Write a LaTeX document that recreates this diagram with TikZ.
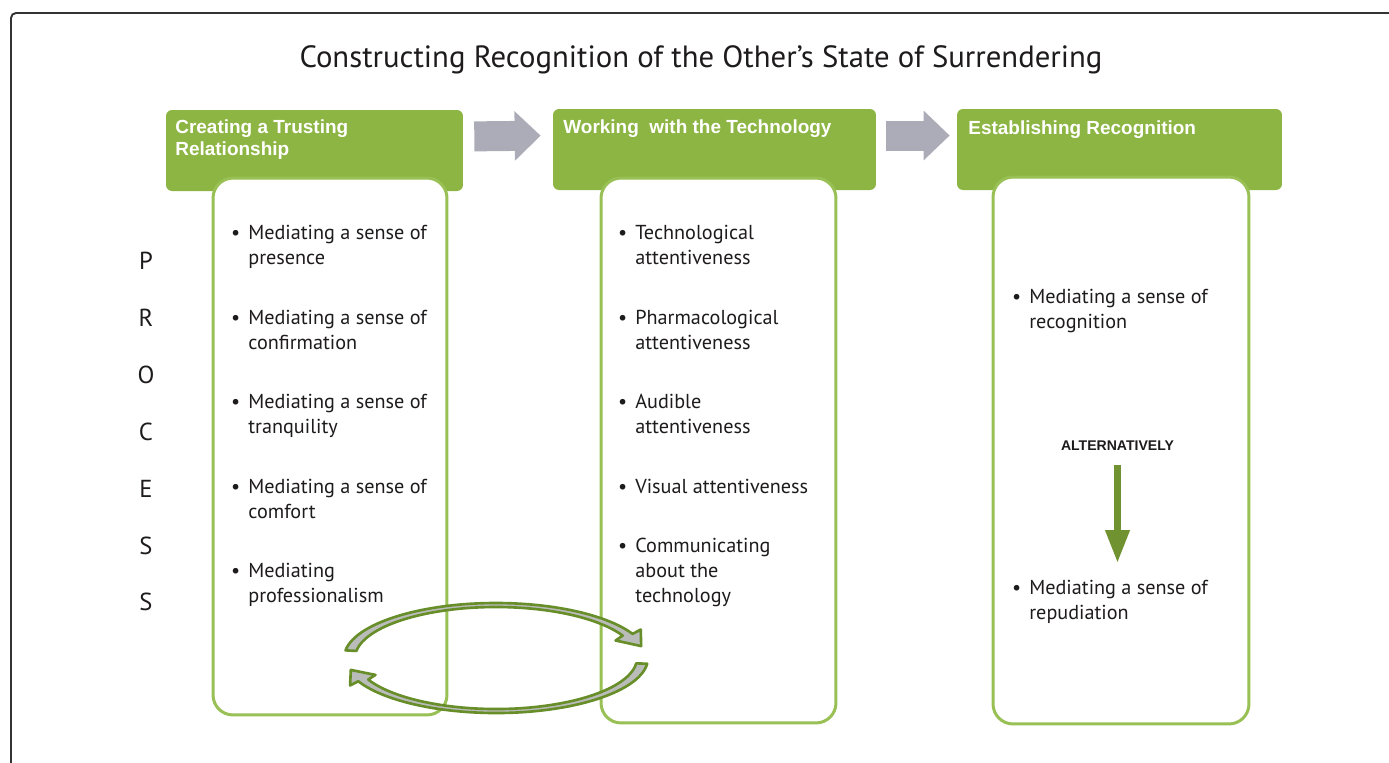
\documentclass[tikz,border=0pt]{standalone}
\usepackage{fontspec}
\setmainfont{PT Sans}
\newfontfamily\hdrfont{Liberation Sans}
\usepackage{tikz}
\usetikzlibrary{calc}
\usetikzlibrary{arrows.meta,positioning}
\definecolor{hdrgreen}{RGB}{141,181,67}
\definecolor{boxgreen}{RGB}{152,192,84}
\definecolor{arrgrey}{RGB}{172,172,184}
\definecolor{cycgrey}{RGB}{186,188,186}
\definecolor{cycgreen}{RGB}{104,142,42}
\definecolor{dkgreen}{RGB}{112,146,48}
\definecolor{txt}{RGB}{30,27,28}

\begin{document}
\begin{tikzpicture}[x=0.02cm, y=0.02cm,
    hdr/.style={fill=hdrgreen, rounded corners=1.2mm, inner sep=0pt, minimum height=16.2mm},
    hdrtext/.style={anchor=base west, inner sep=0pt, align=left, text=white,
        font=\hdrfont\bfseries\fontsize{10.8}{12}\selectfont},
    listbox/.style={draw=boxgreen, line width=1.7pt, fill=white, rounded corners=4mm, inner sep=0pt},
    item/.style={anchor=base west, inner sep=0pt, align=left, text=txt,
        font=\fontsize{11.5}{14.2}\selectfont},
    greyarr/.style={arrgrey, line width=6mm, -{Triangle[width=9.6mm,length=5.2mm]}},
    cycarr/.style={fill=cycgrey, draw=cycgreen, line width=1.5pt, line join=round}]
        \useasboundingbox (0,0) rectangle (1389,-762);
        \draw[line width=1.1pt, color=black!80, rounded corners=1mm] (11,-13) rectangle (1420,-800);

        % title
        \node[anchor=base, inner sep=0pt, text=txt, font=\fontsize{17.5}{19}\selectfont] (title) at (701,-67)
            {Constructing Recognition of the Other’s State of Surrendering};

        % headers
        \node[hdr, minimum width=59.4mm] (h1) at (314.5,-150.5) {};
        \node[hdr, minimum width=64.6mm] (h2) at (714.5,-149.5) {};
        \node[hdr, minimum width=65mm] (h3) at (1119.5,-149.5) {};
        \node[hdrtext] (h1t) at (175,-155) {Creating a Trusting\\Relationship};
        \node[hdrtext] (h2t) at (563,-133) {Working\ \ with the Technology};
        \node[hdrtext] (h3t) at (968,-134) {Establishing Recognition};

        \draw[greyarr, shorten <=2.2mm, shorten >=2.4mm] ([yshift=2.8mm]h1.east) -- ([yshift=2.8mm]h2.west);
        \draw[greyarr, shorten <=2mm, shorten >=1.4mm] ([yshift=2.8mm]h2.east) -- ([yshift=2.8mm]h3.west);

        % white boxes
        \node[listbox, minimum width=46.8mm, minimum height=107.4mm] (b1) at (330,-446.5) {};
        \node[listbox, minimum width=47mm, minimum height=109mm] (b2) at (718.5,-450.5) {};
        \node[listbox, minimum width=51.2mm, minimum height=109.4mm] (b3) at (1121,-450.5) {};

        % process
        \foreach \l/\y [count=\i] in {P/261, R/318, O/375, C/432, E/489, S/546, S/602}
            \node[inner sep=0pt, text=txt, font=\fontsize{14}{15}\selectfont] (p\i) at (146,-\y) {\l};

        % first column (base = last line)
        \node[item] (a1) at (248,-264) {\llap{\textbullet\hspace{1.6mm}}Mediating a sense of\\presence};
        \node[item] (a2) at (248,-349) {\llap{\textbullet\hspace{1.6mm}}Mediating a sense of\\confirmation};
        \node[item] (a3) at (248,-433) {\llap{\textbullet\hspace{1.6mm}}Mediating a sense of\\tranquility};
        \node[item] (a4) at (248,-518) {\llap{\textbullet\hspace{1.6mm}}Mediating a sense of\\comfort};
        \node[item] (a5) at (248,-602) {\llap{\textbullet\hspace{1.6mm}}Mediating\\professionalism};

        % second column
        \node[item] (w1) at (635,-264) {\llap{\textbullet\hspace{1.6mm}}Technological\\attentiveness};
        \node[item] (w2) at (635,-349) {\llap{\textbullet\hspace{1.6mm}}Pharmacological\\attentiveness};
        \node[item] (w3) at (635,-433) {\llap{\textbullet\hspace{1.6mm}}Audible\\attentiveness};
        \node[item] (w4) at (635,-493) {\llap{\textbullet\hspace{1.6mm}}Visual attentiveness};
        \node[item] (w5) at (635,-602) {\llap{\textbullet\hspace{1.6mm}}Communicating\\about the\\technology};

        % third column
        \node[item] (r1) at (1029,-328) {\llap{\textbullet\hspace{1.6mm}}Mediating a sense of\\recognition};
        \node[anchor=base, inner sep=0pt, text=txt, font=\hdrfont\bfseries\fontsize{8}{9}\selectfont] (alt) at (1117.5,-450)
            {ALTERNATIVELY};
        \node[item] (r2) at (1029,-619) {\llap{\textbullet\hspace{1.6mm}}Mediating a sense of\\repudiation};
        \coordinate (dnend) at (1117.5,-563);
        \draw[dkgreen, line width=1.4mm, -{Triangle[width=4.6mm,length=6.6mm]}, shorten <=3mm] (alt.south) -- (dnend);

        % cycle
        \coordinate (cyc) at (496,-658);
        \draw[cycarr] ($(cyc)+(172:152 and 55)$) arc[start angle=172, end angle=26, x radius=152, y radius=55]
            -- ($(cyc)+(26:161 and 65)$) -- ($(cyc)+(13:149 and 53)$) -- ($(cyc)+(26:133 and 40)$)
            -- ($(cyc)+(26:141 and 51)$) arc[start angle=26, end angle=172, x radius=141, y radius=51] -- cycle;
        \draw[cycarr] ($(cyc)+(-6:152 and 55)$) arc[start angle=-6, end angle=-155, x radius=152, y radius=55]
            -- ($(cyc)+(-155:161 and 65)$) -- ($(cyc)+(-167:149 and 53)$) -- ($(cyc)+(-155:133 and 40)$)
            -- ($(cyc)+(-155:141 and 51)$) arc[start angle=-155, end angle=-6, x radius=141, y radius=51] -- cycle;
    \end{tikzpicture}
\end{document}
